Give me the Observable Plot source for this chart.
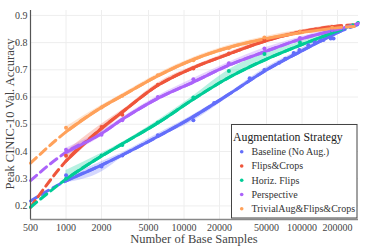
<!DOCTYPE html>
<html>
<head>
<meta charset="utf-8">
<script src="https://cdn.jsdelivr.net/npm/d3@7"></script>
<script src="https://cdn.jsdelivr.net/npm/@observablehq/plot@0.6"></script>
<style>
  html, body { margin: 0; padding: 0; background: white; }
  #chart { width: 373px; height: 249px; }
</style>
</head>
<body>
<div id="chart"></div>
<script>
const series = ["Baseline (No Aug.)", "Flips&Crops", "Horiz. Flips", "Perspective", "TrivialAug&Flips&Crops"];
const colors = ["#636efa", "#EF553B", "#00cc96", "#ab63fa", "#FFA15A"];

const xTicks = [500, 1000, 2000, 5000, 10000, 20000, 50000, 100000, 200000];
const xTickLabels = ["500", "1000", "2000", "5000", "10000", "20000", "50000", "100000", "200000"];
const yTicks = [0.2, 0.3, 0.4, 0.5, 0.6, 0.7, 0.8, 0.9];
const yTickLabels = ["0.2", "0.3", "0.4", "0.5", "0.6", "0.7", "0.8", "0.9"];

// fitted curves
const fitX = [500, 1000, 2000, 3000, 6000, 12000, 24000, 48000, 96000, 215000, 300000];
const fitBaseline    = [0.218, 0.292, 0.350, 0.387, 0.455, 0.528, 0.610, 0.695, 0.766, 0.843, 0.866];
const fitFlipsCrops  = [0.195, 0.365, 0.485, 0.545, 0.643, 0.708, 0.758, 0.805, 0.839, 0.862, 0.866];
const fitHorizFlips  = [0.195, 0.298, 0.383, 0.428, 0.505, 0.592, 0.672, 0.736, 0.790, 0.848, 0.874];
const fitPerspective = [0.293, 0.397, 0.466, 0.518, 0.595, 0.655, 0.717, 0.766, 0.812, 0.852, 0.870];
const fitTrivial     = [0.357, 0.472, 0.562, 0.605, 0.678, 0.738, 0.782, 0.813, 0.836, 0.856, 0.860];

// measured points
const ptX = [1000, 2000, 3000, 6000, 12000, 24000, 48000, 96000, 180000];
const ptFlipsCrops  = [0.384, 0.490, 0.535, 0.645, 0.705, 0.760, 0.810, 0.840, 0.858];
const ptHorizFlips  = [0.300, 0.385, 0.424, 0.506, 0.598, 0.696, 0.758, 0.800, 0.840];
const ptPerspective = [0.406, 0.461, 0.515, 0.600, 0.665, 0.724, 0.778, 0.817, 0.845];
const ptTrivial     = [0.487, 0.562, 0.605, 0.680, 0.735, 0.780, 0.819, 0.840, 0.855];
const ptBaselineX = [1000, 2000, 3000, 6000, 12000, 18000, 36000, 48000, 64000, 72000, 85000, 95000, 113000, 128000, 143000, 152000, 175000, 185000];
const ptBaseline  = [0.313, 0.345, 0.385, 0.460, 0.515, 0.578, 0.669, 0.699, 0.726, 0.741, 0.762, 0.773, 0.790, 0.800, 0.807, 0.810, 0.815, 0.815];

// uncertainty bands
const bandX = [1000, 2000, 3000, 6000, 12000, 24000, 48000, 96000, 180000];
const bandBaselineLo    = [0.285, 0.325, 0.378, 0.450, 0.512, 0.600, 0.690, 0.760, 0.832];
const bandBaselineHi    = [0.305, 0.362, 0.395, 0.465, 0.535, 0.615, 0.705, 0.775, 0.845];
const bandFlipsCropsLo  = [0.355, 0.470, 0.532, 0.636, 0.700, 0.752, 0.800, 0.833, 0.855];
const bandFlipsCropsHi  = [0.400, 0.500, 0.552, 0.652, 0.714, 0.765, 0.813, 0.845, 0.865];
const bandHorizFlipsLo  = [0.290, 0.376, 0.420, 0.498, 0.586, 0.665, 0.730, 0.785, 0.835];
const bandHorizFlipsHi  = [0.330, 0.393, 0.434, 0.514, 0.604, 0.700, 0.762, 0.802, 0.848];
const bandPerspectiveLo = [0.385, 0.455, 0.510, 0.588, 0.650, 0.712, 0.762, 0.806, 0.845];
const bandPerspectiveHi = [0.412, 0.475, 0.525, 0.604, 0.668, 0.728, 0.780, 0.820, 0.855];
const bandTrivialLo     = [0.465, 0.555, 0.598, 0.670, 0.730, 0.774, 0.807, 0.830, 0.850];
const bandTrivialHi     = [0.490, 0.570, 0.612, 0.686, 0.745, 0.790, 0.822, 0.845, 0.860];

const fits = [fitBaseline, fitFlipsCrops, fitHorizFlips, fitPerspective, fitTrivial];
const pts = [ptBaseline, ptFlipsCrops, ptHorizFlips, ptPerspective, ptTrivial];
const ptXs = [ptBaselineX, ptX, ptX, ptX, ptX];
const bandLo = [bandBaselineLo, bandFlipsCropsLo, bandHorizFlipsLo, bandPerspectiveLo, bandTrivialLo];
const bandHi = [bandBaselineHi, bandFlipsCropsHi, bandHorizFlipsHi, bandPerspectiveHi, bandTrivialHi];

const fitRows = [], solidRows = [], pointRows = [], bandRows = [];
series.forEach((s, i) => {
  fitX.forEach((x, j) => {
    fitRows.push({s, x, y: fits[i][j]});
    if (x >= 1000 && x <= 215000) solidRows.push({s, x, y: fits[i][j]});
  });
  ptXs[i].forEach((x, j) => pointRows.push({s, x, y: pts[i][j]}));
  bandX.forEach((x, j) => bandRows.push({s, x, lo: bandLo[i][j], hi: bandHi[i][j]}));
});
const xTickRows = xTicks.map((v, i) => ({v, label: xTickLabels[i]}));
const yTickRows = yTicks.map((v, i) => ({v, label: yTickLabels[i]}));

const font = "'Liberation Serif', 'Times New Roman', serif";
const color = {domain: series, range: colors};

const chart = Plot.plot({
  width: 373,
  height: 249,
  marginLeft: 30,
  marginRight: 15,
  marginTop: 10,
  marginBottom: 30,
  style: {fontFamily: font, fontSize: "10px", color: "#444", background: "white", overflow: "visible"},
  color,
  x: {type: "log", domain: [500, 301000], axis: null},
  y: {domain: [0.15, 0.918], axis: null},
  marks: [
    Plot.gridX(xTicks, {stroke: "#eeeeee", strokeOpacity: 1}),
    Plot.gridY(yTicks, {stroke: "#eeeeee", strokeOpacity: 1}),
    Plot.areaY(bandRows, {x: "x", y1: "lo", y2: "hi", fill: "s", fillOpacity: 0.28, curve: "monotone-x", z: "s"}),
    Plot.line(fitRows, {x: "x", y: "y", stroke: "s", z: "s", strokeWidth: 3, strokeDasharray: "8,5", curve: "monotone-x"}),
    Plot.line(solidRows, {x: "x", y: "y", stroke: "s", z: "s", strokeWidth: 3, curve: "monotone-x"}),
    Plot.dot(pointRows, {x: "x", y: "y", fill: "s", r: 2, stroke: null}),
    Plot.ruleX([500], {stroke: "#555", strokeWidth: 1.2}),
    Plot.ruleY([0.15], {stroke: "#888", strokeWidth: 1.5}),
    Plot.text(xTickRows, {x: "v", text: "label", frameAnchor: "bottom", lineAnchor: "top", dy: 4, fontSize: 10, fill: "#444"}),
    Plot.text(yTickRows, {y: "v", text: "label", frameAnchor: "left", textAnchor: "end", dx: -3, fontSize: 10, fill: "#444"})
  ]
});

document.getElementById("chart").appendChild(chart);

const svg = d3.select(chart);
// axis titles
svg.append("text")
  .attr("x", 194).attr("y", 243)
  .attr("text-anchor", "middle")
  .attr("font-family", font).attr("font-size", 12.5).attr("fill", "#444")
  .text("Number of Base Samples");
svg.append("text")
  .attr("transform", "translate(14,114) rotate(-90)")
  .attr("text-anchor", "middle")
  .attr("font-family", font).attr("font-size", 12.5).attr("fill", "#444")
  .text("Peak CINIC-10 Val. Accuracy");

// legend
const lg = svg.append("g").attr("text-anchor", "start");
lg.append("rect")
  .attr("x", 231.5).attr("y", 124.5).attr("width", 125.5).attr("height", 93.5)
  .attr("fill", "white").attr("stroke", "#444").attr("stroke-width", 1);
lg.append("text")
  .attr("x", 233).attr("y", 141)
  .attr("text-anchor", "start")
  .attr("font-family", font).attr("font-size", 11.8).attr("fill", "#222")
  .text("Augmentation Strategy");
series.forEach((s, i) => {
  const cy = 151.7 + i * 14.25;
  lg.append("circle").attr("cx", 241.7).attr("cy", cy).attr("r", 1.8).attr("fill", colors[i]);
  lg.append("text")
    .attr("x", 251.5).attr("y", cy + 3.5)
    .attr("text-anchor", "start")
    .attr("font-family", font).attr("font-size", 10).attr("fill", "#333")
    .text(s);
});
</script>
</body>
</html>
